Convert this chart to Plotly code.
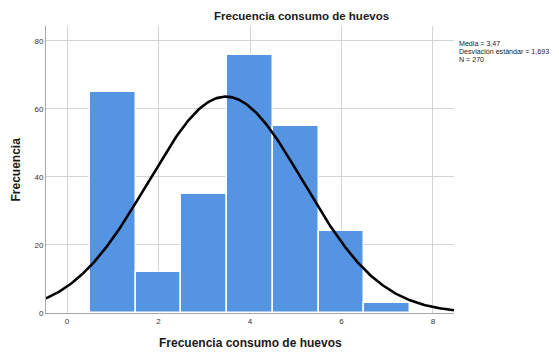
import numpy as np
import plotly.graph_objects as go

categories = [1, 2, 3, 4, 5, 6, 7]
counts = [65, 12, 35, 76, 55, 24, 3]
mean_val = 3.47
sd_val = 1.693
n_val = 270
x_ticks = [0, 2, 4, 6, 8]
y_ticks = [0, 20, 40, 60, 80]

title = "Frecuencia consumo de huevos"
x_title = "Frecuencia consumo de huevos"
y_title = "Frecuencia"
stats_lines = ["Media = 3,47", "Desviación estándar = 1,693", "N = 270"]

FONT = "Liberation Sans, Arial, sans-serif"

fig = go.Figure()
fig.add_trace(go.Bar(
    x=categories, y=counts, width=1,
    marker=dict(color="#5594e3", line=dict(color="white", width=1.5)),
    hoverinfo="x+y", showlegend=False,
))

xs = np.linspace(-0.46, 8.46, 400)
ys = n_val * 1.0 / (sd_val * np.sqrt(2 * np.pi)) * np.exp(-0.5 * ((xs - mean_val) / sd_val) ** 2)
fig.add_trace(go.Scatter(x=xs, y=ys, mode="lines",
                         line=dict(color="black", width=2.6), showlegend=False))

annotations = [
    dict(text="<b>" + title + "</b>", xref="paper", yref="paper",
         x=(301 - 46) / 408, y=1, yshift=2, showarrow=False,
         font=dict(size=11.5, color="#1a1a1a", family=FONT),
         xanchor="center", yanchor="bottom"),
    dict(text="<b>" + x_title + "</b>", xref="paper", yref="paper",
         x=0.5, y=0, yshift=-21, showarrow=False,
         font=dict(size=12, color="#1a1a1a", family=FONT),
         xanchor="center", yanchor="top"),
    dict(text="<b>" + y_title + "</b>", xref="paper", yref="paper",
         x=0, xshift=-22, y=0.5, textangle=-90, showarrow=False,
         font=dict(size=12, color="#1a1a1a", family=FONT),
         xanchor="right", yanchor="middle"),
]
for i, line in enumerate(stats_lines):
    annotations.append(dict(
        text=line, xref="paper", yref="paper",
        x=1, xshift=4, y=(313 - 44 - 7.8 * i) / 287, showarrow=False, align="left",
        font=dict(size=7.1, color="#222222", family=FONT), borderpad=0,
        xanchor="left", yanchor="middle"))

fig.update_layout(
    width=551, height=344,
    margin=dict(l=38, r=105, t=18, b=39, autoexpand=False),
    plot_bgcolor="white", paper_bgcolor="white",
    bargap=0,
    font=dict(family=FONT, color="#333333", size=8),
    xaxis=dict(range=[-0.46, 8.46], tickvals=x_ticks, showgrid=True,
               gridcolor="#d4d4d4", gridwidth=1, showline=True,
               linecolor="#a8a8a8", linewidth=1, zeroline=False,
               ticks="", tickfont=dict(size=8, color="#333333")),
    yaxis=dict(range=[0, 84.4], tickvals=y_ticks, showgrid=True,
               gridcolor="#d4d4d4", gridwidth=1, showline=True,
               linecolor="#a8a8a8", linewidth=1, zeroline=False,
               ticks="", tickfont=dict(size=8, color="#333333")),
    annotations=annotations,
)

fig.write_html("out.html")
